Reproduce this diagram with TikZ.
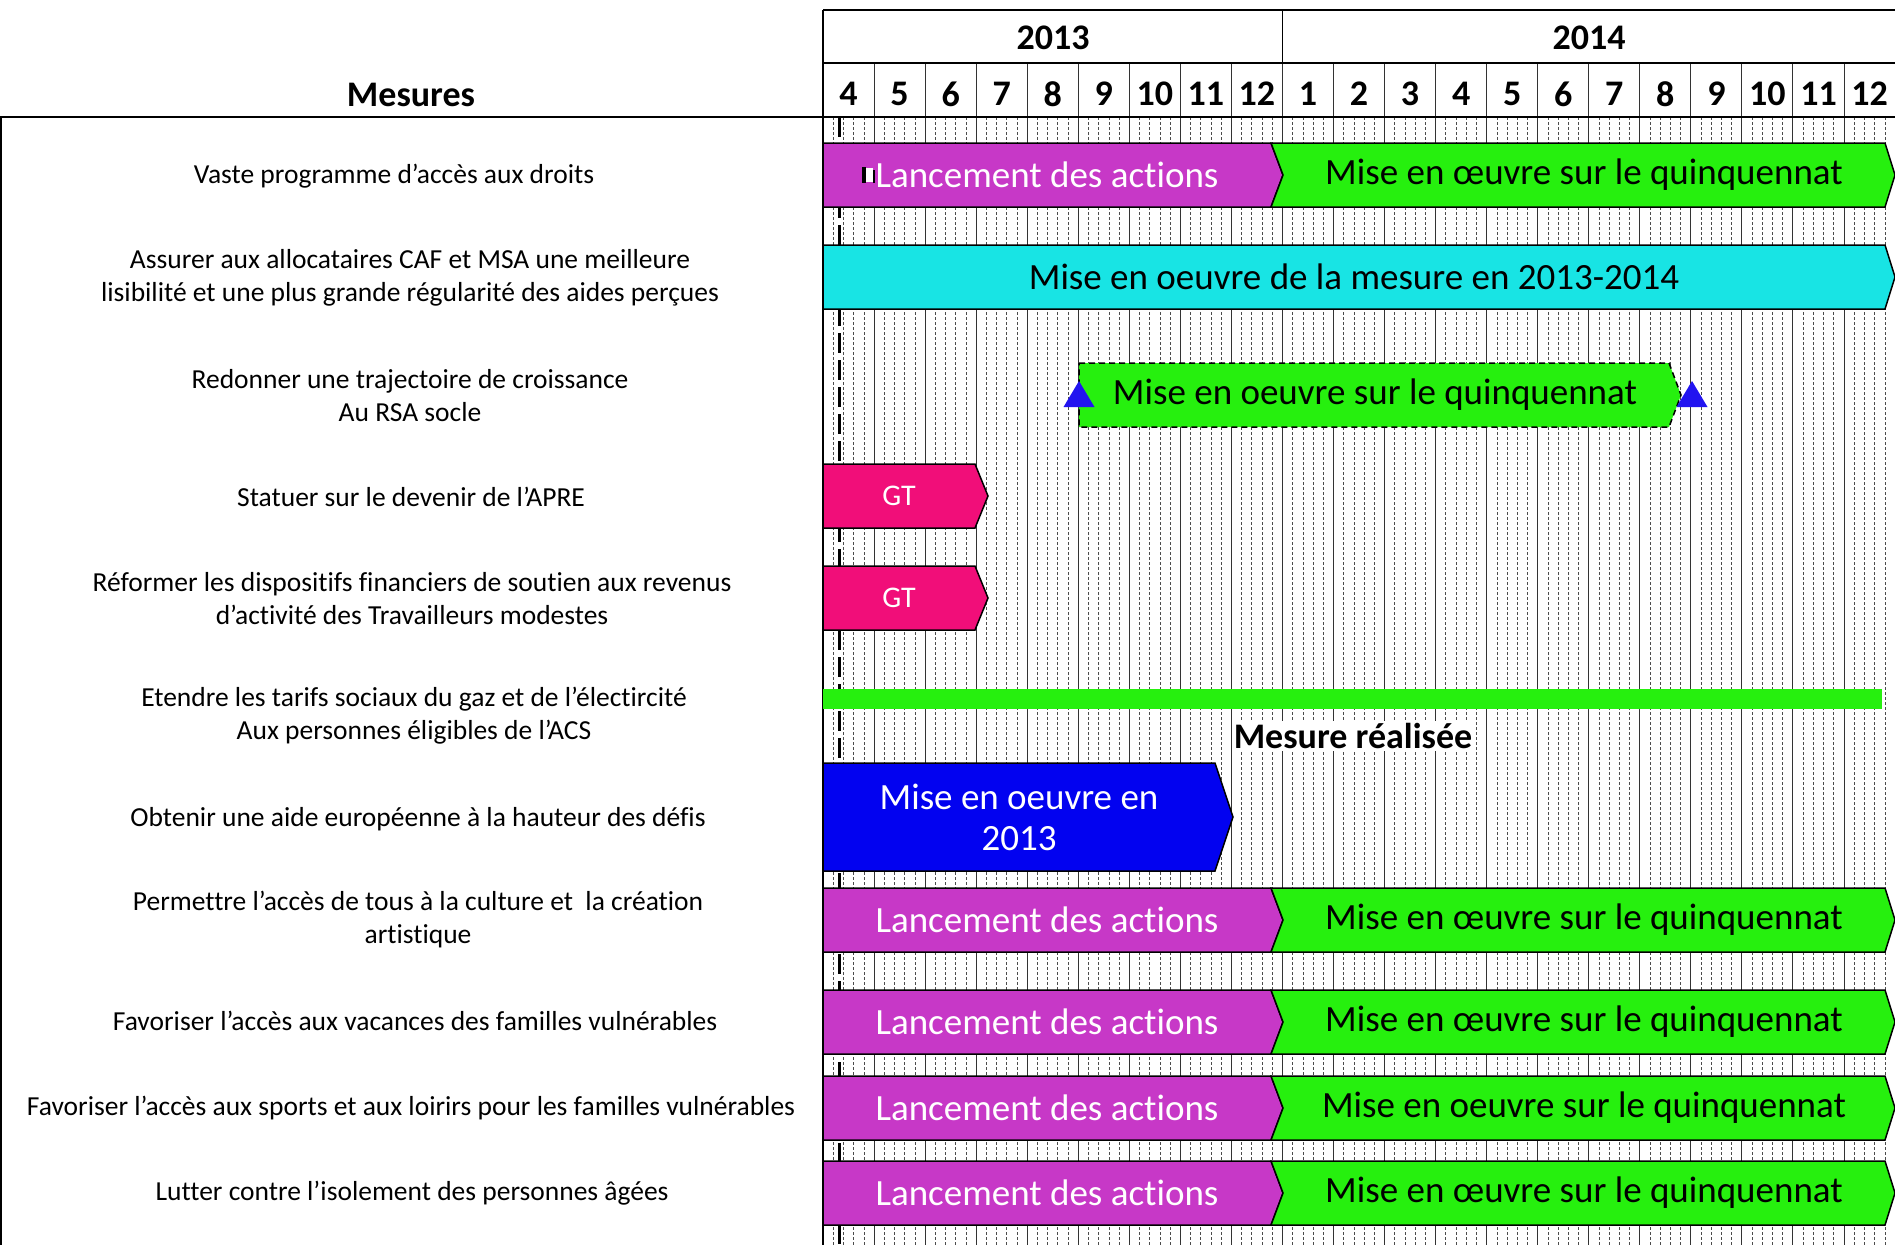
\documentclass[tikz,border=0pt]{standalone}
\usepackage{fontspec}
\setmainfont[Ligatures={NoCommon,NoContextual}]{Carlito}
\definecolor{lancviolet}{RGB}{199,56,199}
\definecolor{misevert}{RGB}{38,240,14}
\definecolor{mesurecyan}{RGB}{24,228,228}
\definecolor{gtrose}{RGB}{241,14,121}
\definecolor{bleubarre}{RGB}{2,2,240}
\definecolor{bleujalon}{RGB}{34,20,240}
\usetikzlibrary{calc}

\begin{document}
\begin{tikzpicture}[x=1pt,y=-1pt,
  mesure/.style={align=center,font=\fontsize{27.5}{33}\selectfont},
  entete/.style={font=\fontsize{36}{40}\selectfont\bfseries},
  barre/.style={draw=black,line width=1.5pt,line join=miter},
  texteblanc/.style={text=white,font=\fontsize{37}{41}\selectfont},
  textenoir/.style={text=black,font=\fontsize{37}{41}\selectfont}]
\useasboundingbox (0,0) rectangle (1895,1245);
% grille des semaines et des mois
\foreach \i in {0,...,20}
  \foreach \k in {1,...,4}
    \draw[black!70,line width=.7pt,dash pattern=on 3pt off 2pt] ({823+(\i+\k/5)*51.05},117) -- ++(0,1128);
\foreach \i in {1,...,20}
  \draw[black!80,line width=1pt] ({823+\i*51.05},63) -- ++(0,1182);
\draw[line width=3pt,dash pattern=on 20pt off 7pt] (839,117) -- (839,1245);
% en-tete
\draw[line width=1.5pt] (823,10) -- (1895,10) (823,63) -- (1895,63) (0,117) -- (1895,117);
\draw[line width=1.5pt] (823,10) -- (823,1245) (1282.5,10) -- (1282.5,63) (1,117) -- (1,1245);
\node[entete] (mesures) at (411,95) {Mesures};
\node[entete] (an13) at (1053,38) {2013};
\node[entete] (an14) at (1589,38) {2014};
\foreach \m [count=\i from 0] in {4,5,6,7,8,9,10,11,12,1,2,3,4,5,6,7,8,9,10,11,12}
  \node[entete] (mois\i) at ({823+(\i+.5)*51.05},94) {\m};
% mesures
\node[mesure] (m1) at (394,176) {Vaste programme d’accès aux droits};
\node[mesure] (m2) at (410,278) {Assurer aux allocataires CAF et MSA une meilleure\\lisibilité et une plus grande régularité des aides perçues};
\node[mesure] (m3) at (410,396) {Redonner une trajectoire de croissance\\Au RSA socle};
\node[mesure] (m4) at (411,497) {Statuer sur le devenir de l’APRE};
\node[mesure] (m5) at (412,599) {Réformer les dispositifs financiers de soutien aux revenus\\d’activité des Travailleurs modestes};
\node[mesure] (m6) at (414,716) {Etendre les tarifs sociaux du gaz et de l’électircité\\Aux personnes éligibles de l’ACS};
\node[mesure] (m7) at (418,819) {Obtenir une aide européenne à la hauteur des défis};
\node[mesure] (m8) at (418,920) {Permettre l’accès de tous à la culture et~ la création\\artistique};
\node[mesure] (m9) at (415,1021) {Favoriser l’accès aux vacances des familles vulnérables};
\node[mesure] (m10) at (411,1108) {Favoriser l’accès aux sports et aux loirirs pour les familles vulnérables};
\node[mesure] (m11) at (412,1193) {Lutter contre l’isolement des personnes âgées};
% barres lancement / mise en oeuvre
\foreach \yt/\mtxt [count=\r] in {143/Mise en œuvre sur le quinquennat,888/Mise en œuvre sur le quinquennat,990/Mise en œuvre sur le quinquennat,1076/Mise en oeuvre sur le quinquennat,1161/Mise en œuvre sur le quinquennat}{
  \path[barre,fill=lancviolet] (823,\yt) -- (1271,\yt) -- (1283,\yt+32) -- (1271,\yt+64) -- (823,\yt+64) -- cycle;
  \path[barre,fill=misevert] (1271,\yt) -- (1885,\yt) -- (1895,\yt+32) -- (1885,\yt+64) -- (1271,\yt+64) -- (1283,\yt+32) -- cycle;
  \node[texteblanc] (lanc\r) at (1047,\yt+32) {Lancement des actions};
  \node[textenoir] (mise\r) at (1584,\yt+32) {\mtxt};
}
\fill (862,167) rectangle (866,183);
\fill[white] (866,168) rectangle (873,182);
\fill (873,170) rectangle (875,183);
% 2013-2014
\path[barre,fill=mesurecyan] (823,245) -- (1885,245) -- (1895,277) -- (1885,309) -- (823,309) -- cycle;
\node[textenoir] (cyan) at (1354,277) {Mise en oeuvre de la mesure en 2013-2014};
% RSA socle
\path[barre,dash pattern=on 6pt off 4pt,fill=misevert] (1079,363) -- (1669,363) -- (1681,395) -- (1669,427) -- (1079,427) -- cycle;
\node[textenoir] (rsa) at (1375,395) {Mise en oeuvre sur le quinquennat};
\fill[bleujalon] (1079,381) -- (1094.5,407) -- (1063.5,407) -- cycle;
\fill[bleujalon] (1692,381) -- (1707.5,407) -- (1676.5,407) -- cycle;
% GT
\path[barre,fill=gtrose] (823,464) -- (975,464) -- (988,496) -- (975,528) -- (823,528) -- cycle;
\path[barre,fill=gtrose] (823,566) -- (975,566) -- (988,598) -- (975,630) -- (823,630) -- cycle;
\node[text=white,font=\fontsize{30}{34}\selectfont] (gt1) at (899,496) {GT};
\node[text=white,font=\fontsize{30}{34}\selectfont] (gt2) at (899,598) {GT};
% tarifs sociaux
\fill[misevert] (823,689) rectangle (1882,709);
\node[entete,fill=white,inner sep=2pt] (realisee) at (1353,736) {Mesure réalisée};
% aide europeenne
\path[barre,fill=bleubarre] (823,763) -- (1215,763) -- (1233,817) -- (1215,871) -- (823,871) -- cycle;
\node[texteblanc,align=center] (europe) at (1019,817) {Mise en oeuvre en\\2013};
\end{tikzpicture}
\end{document}
